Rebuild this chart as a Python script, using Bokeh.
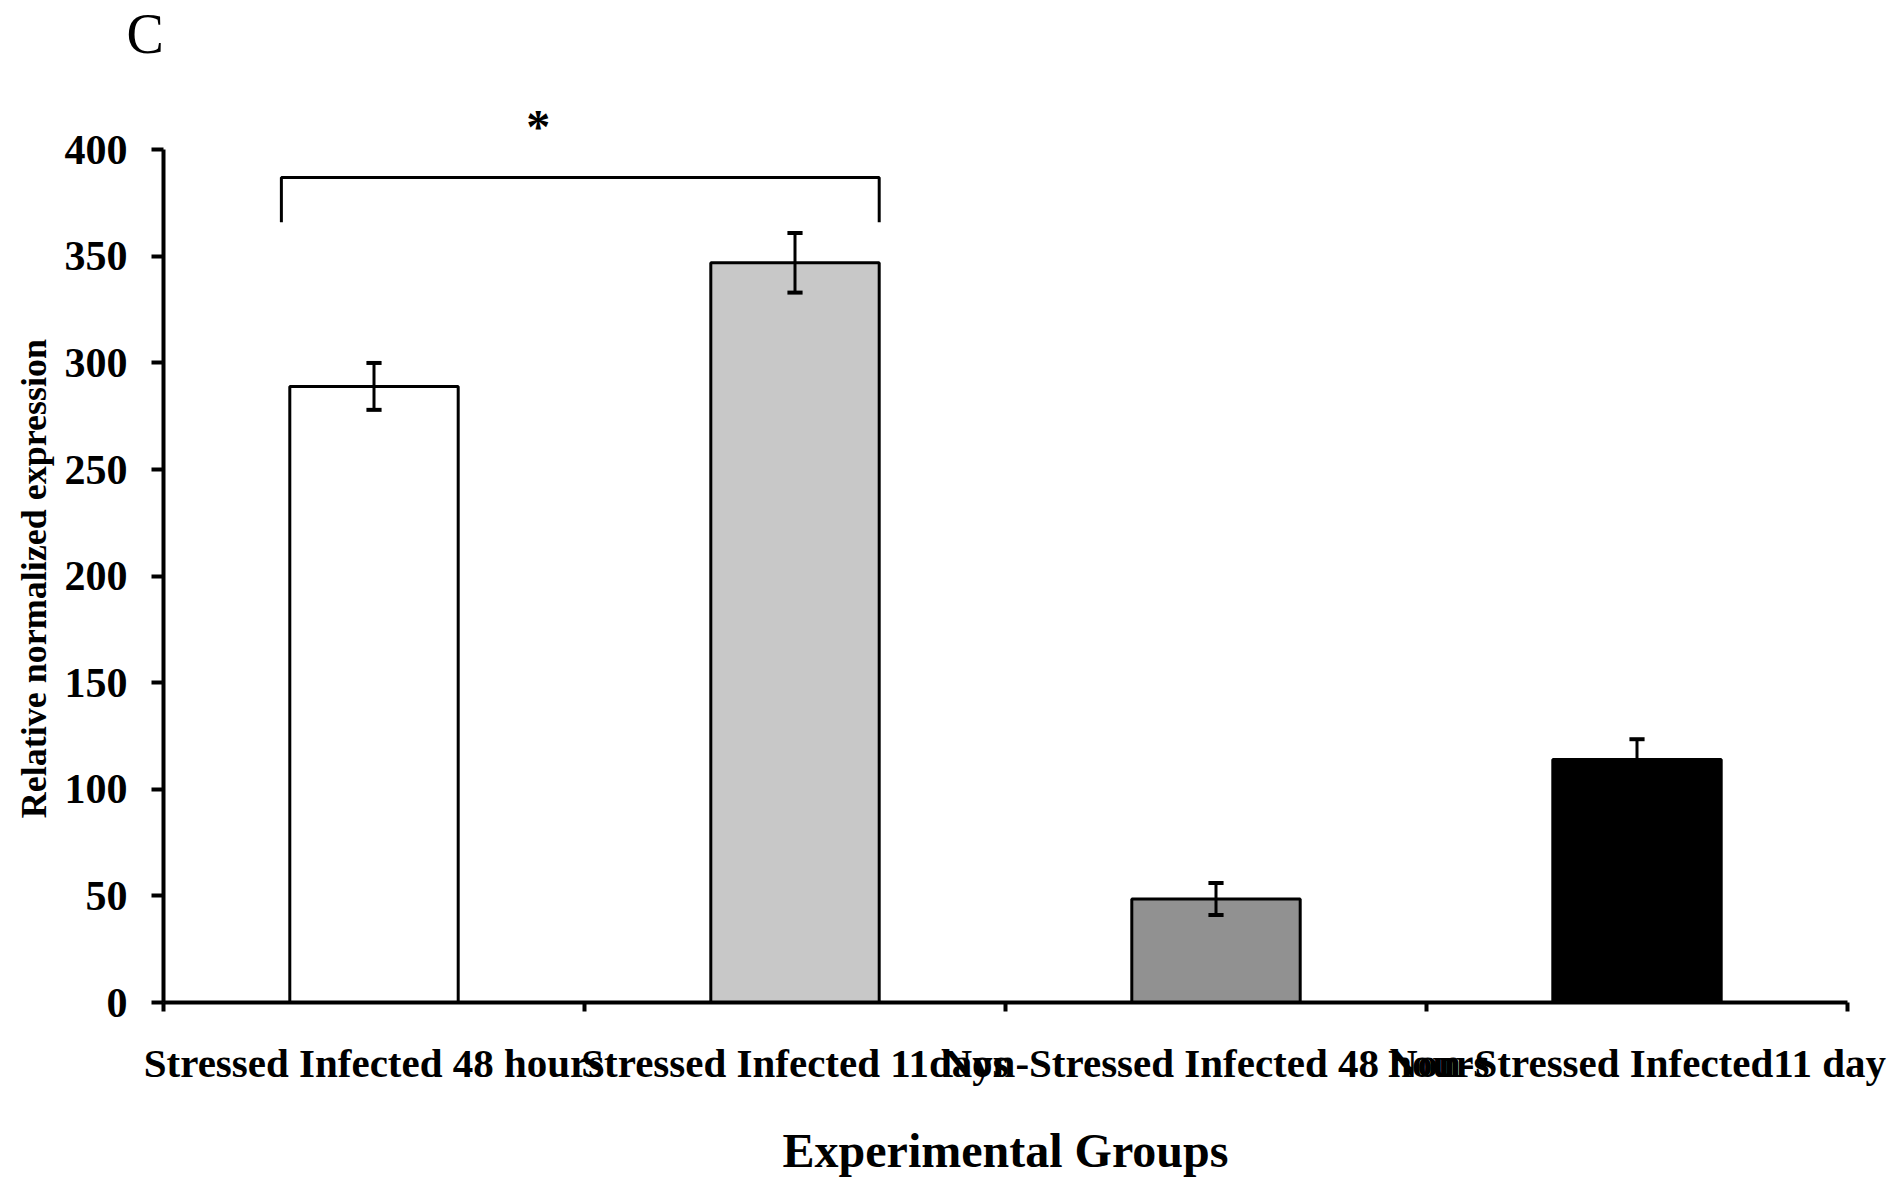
from bokeh.plotting import figure
from bokeh.models import Range1d, FixedTicker, Label
from bokeh.embed import file_html
from bokeh.resources import INLINE

# ---- data ----
groups = ["Stressed Infected 48 hours", "Stressed Infected 11days",
          "Non-Stressed Infected 48 hours", "Non-Stressed Infected11 day"]
expression = [289, 347, 48.5, 114]
errors = [11, 14, 7.5, 9.5]
bar_colors = ["#FFFFFF", "#C8C8C8", "#919191", "#000000"]
y_ticks = [0, 50, 100, 150, 200, 250, 300, 350, 400]
sig_pair = (0, 1)
sig_mark = "*"
panel_letter = "C"
y_title = "Relative normalized expression"
x_title = "Experimental Groups"

FONT = "Liberation Serif"
n = len(groups)
xc = [i + 0.5 for i in range(n)]
bar_w = 0.4
upper = [v + e for v, e in zip(expression, errors)]
lower = [v - e for v, e in zip(expression, errors)]

p = figure(width=1893, height=1182, x_range=Range1d(0, n), y_range=Range1d(0, 440),
           output_backend="svg", toolbar_location=None,
           min_border_left=163, min_border_right=46, min_border_top=63, min_border_bottom=180)
p.background_fill_color = "white"
p.border_fill_color = "white"
p.outline_line_color = None
p.xgrid.visible = False
p.ygrid.visible = False

# panel letter as title
p.title.text = panel_letter
p.title.text_font = FONT
p.title.text_font_style = "normal"
p.title.text_font_size = "56px"
p.title.text_color = "black"
p.title.align = "left"
p.title.offset = -37
p.title.standoff = 0

# bars
p.vbar(x=xc, top=expression, width=bar_w, fill_color=bar_colors,
       line_color="black", line_width=3)

# error bars
cap = 0.018
p.segment(x0=xc, y0=lower, x1=xc, y1=upper, line_color="black", line_width=3)
p.segment(x0=[x - cap for x in xc], y0=upper, x1=[x + cap for x in xc], y1=upper,
          line_color="black", line_width=4)
p.segment(x0=[x - cap for x in xc], y0=lower, x1=[x + cap for x in xc], y1=lower,
          line_color="black", line_width=4)

# significance bracket
a, b = sig_pair
left = xc[a] - bar_w / 2 - 0.02
right = xc[b] + bar_w / 2
top = max(upper[a], upper[b]) + 26
foot = top - 21
p.line(x=[left, left, right, right], y=[foot, top, top, foot], line_color="black", line_width=3)
p.add_layout(Label(x=(left + right) / 2 - 0.1, y=top + 24, text=sig_mark,
                   text_font=FONT, text_font_style="bold", text_font_size="48px",
                   text_align="center", text_baseline="middle", text_color="black"))

# y axis
ya = p.yaxis[0]
ya.ticker = FixedTicker(ticks=y_ticks)
ya.bounds = (0, 400)
ya.axis_line_width = 4
ya.major_tick_line_width = 4
ya.major_tick_out = 12
ya.major_tick_in = 0
ya.minor_tick_line_color = None
ya.major_label_text_font = FONT
ya.major_label_text_font_style = "bold"
ya.major_label_text_font_size = "42px"
ya.major_label_text_color = "black"
ya.major_label_standoff = 24
ya.axis_label = y_title + "\u00a0" * 10
ya.axis_label_text_font = FONT
ya.axis_label_text_font_style = "bold"
ya.axis_label_text_font_size = "36px"
ya.axis_label_text_color = "black"
ya.axis_label_standoff = 8

# x axis
xa = p.xaxis[0]
xa.ticker = FixedTicker(ticks=xc, minor_ticks=list(range(n + 1)))
xa.major_label_overrides = {x: g for x, g in zip(xc, groups)}
xa.axis_line_width = 4
xa.major_tick_line_color = None
xa.minor_tick_line_width = 4
xa.minor_tick_out = 9
xa.minor_tick_in = 0
xa.major_label_text_font = FONT
xa.major_label_text_font_style = "bold"
xa.major_label_text_font_size = "41px"
xa.major_label_text_color = "black"
xa.major_label_standoff = 28
xa.axis_label = x_title
xa.axis_label_text_font = FONT
xa.axis_label_text_font_style = "bold"
xa.axis_label_text_font_size = "48px"
xa.axis_label_text_color = "black"
xa.axis_label_standoff = 35

open("out.html", "w").write(file_html(p, INLINE))
